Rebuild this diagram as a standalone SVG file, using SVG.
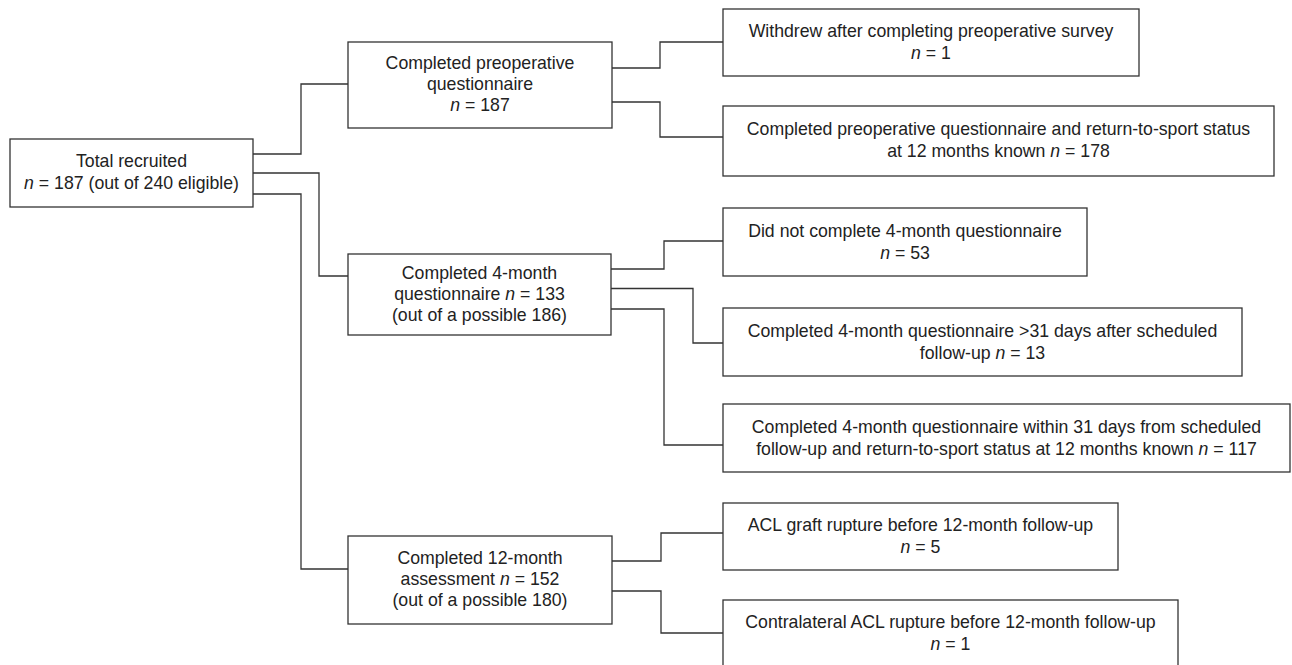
<svg xmlns="http://www.w3.org/2000/svg" width="1292" height="665" viewBox="0 0 1292 665">
<style>
.box{fill:#fff;stroke:#333;stroke-width:1.3}
.con{fill:none;stroke:#333;stroke-width:1.3}
text{font-family:"Liberation Sans",Arial,sans-serif;font-size:17.7px;fill:#222;text-anchor:middle}
.i{font-style:italic}
</style>
<rect width="1292" height="665" fill="#fff"/>
<g id="connectors">
<polyline class="con" points="253,154 301,154 301,84 348,84"/>
<polyline class="con" points="253,173 319,173 319,276 348,276"/>
<polyline class="con" points="253,194 301,194 301,569 348,569"/>
<polyline class="con" points="612,68 660,68 660,42 723,42"/>
<polyline class="con" points="612,102 660,102 660,137 723,137"/>
<polyline class="con" points="611,269 664,269 664,241 723,241"/>
<polyline class="con" points="611,288.5 693,288.5 693,343 723,343"/>
<polyline class="con" points="611,309 664,309 664,445 723,445"/>
<polyline class="con" points="612,561 661,561 661,533 723,533"/>
<polyline class="con" points="612,591 661,591 661,633 723,633"/>
</g>
<g id="total">
<rect class="box" x="10" y="139" width="243" height="68"/>
<text x="131.5" y="167">Total recruited</text>
<text x="131.5" y="189"><tspan class="i">n</tspan> = 187 (out of 240 eligible)</text>
</g>
<g id="preop">
<rect class="box" x="348" y="42" width="264" height="86"/>
<text x="480" y="69">Completed preoperative</text>
<text x="480" y="90">questionnaire</text>
<text x="480" y="111"><tspan class="i">n</tspan> = 187</text>
</g>
<g id="month4">
<rect class="box" x="348" y="254" width="263" height="81"/>
<text x="479.5" y="279">Completed 4-month</text>
<text x="479.5" y="300">questionnaire <tspan class="i">n</tspan> = 133</text>
<text x="479.5" y="321">(out of a possible 186)</text>
</g>
<g id="month12">
<rect class="box" x="348" y="536" width="264" height="88"/>
<text x="480" y="564">Completed 12-month</text>
<text x="480" y="585">assessment <tspan class="i">n</tspan> = 152</text>
<text x="480" y="606">(out of a possible 180)</text>
</g>
<g id="withdrew">
<rect class="box" x="723" y="9" width="416" height="67"/>
<text x="931" y="37">Withdrew after completing preoperative survey</text>
<text x="931" y="59"><tspan class="i">n</tspan> = 1</text>
</g>
<g id="preop-rts">
<rect class="box" x="723" y="106" width="551" height="70"/>
<text x="998.5" y="135">Completed preoperative questionnaire and return-to-sport status</text>
<text x="998.5" y="157">at 12 months known <tspan class="i">n</tspan> = 178</text>
</g>
<g id="did-not">
<rect class="box" x="723" y="208" width="364" height="68"/>
<text x="905" y="237">Did not complete 4-month questionnaire</text>
<text x="905" y="259"><tspan class="i">n</tspan> = 53</text>
</g>
<g id="late">
<rect class="box" x="723" y="308" width="519" height="68"/>
<text x="982.5" y="337">Completed 4-month questionnaire &gt;31 days after scheduled</text>
<text x="982.5" y="359">follow-up <tspan class="i">n</tspan> = 13</text>
</g>
<g id="within">
<rect class="box" x="723" y="404" width="567" height="68"/>
<text x="1006.5" y="433">Completed 4-month questionnaire within 31 days from scheduled</text>
<text x="1006.5" y="455">follow-up and return-to-sport status at 12 months known <tspan class="i">n</tspan> = 117</text>
</g>
<g id="graft">
<rect class="box" x="723" y="503" width="395" height="67"/>
<text x="920.5" y="531">ACL graft rupture before 12-month follow-up</text>
<text x="920.5" y="553"><tspan class="i">n</tspan> = 5</text>
</g>
<g id="contra">
<rect class="box" x="723" y="600" width="455" height="68"/>
<text x="950.5" y="628">Contralateral ACL rupture before 12-month follow-up</text>
<text x="950.5" y="650"><tspan class="i">n</tspan> = 1</text>
</g>
</svg>
